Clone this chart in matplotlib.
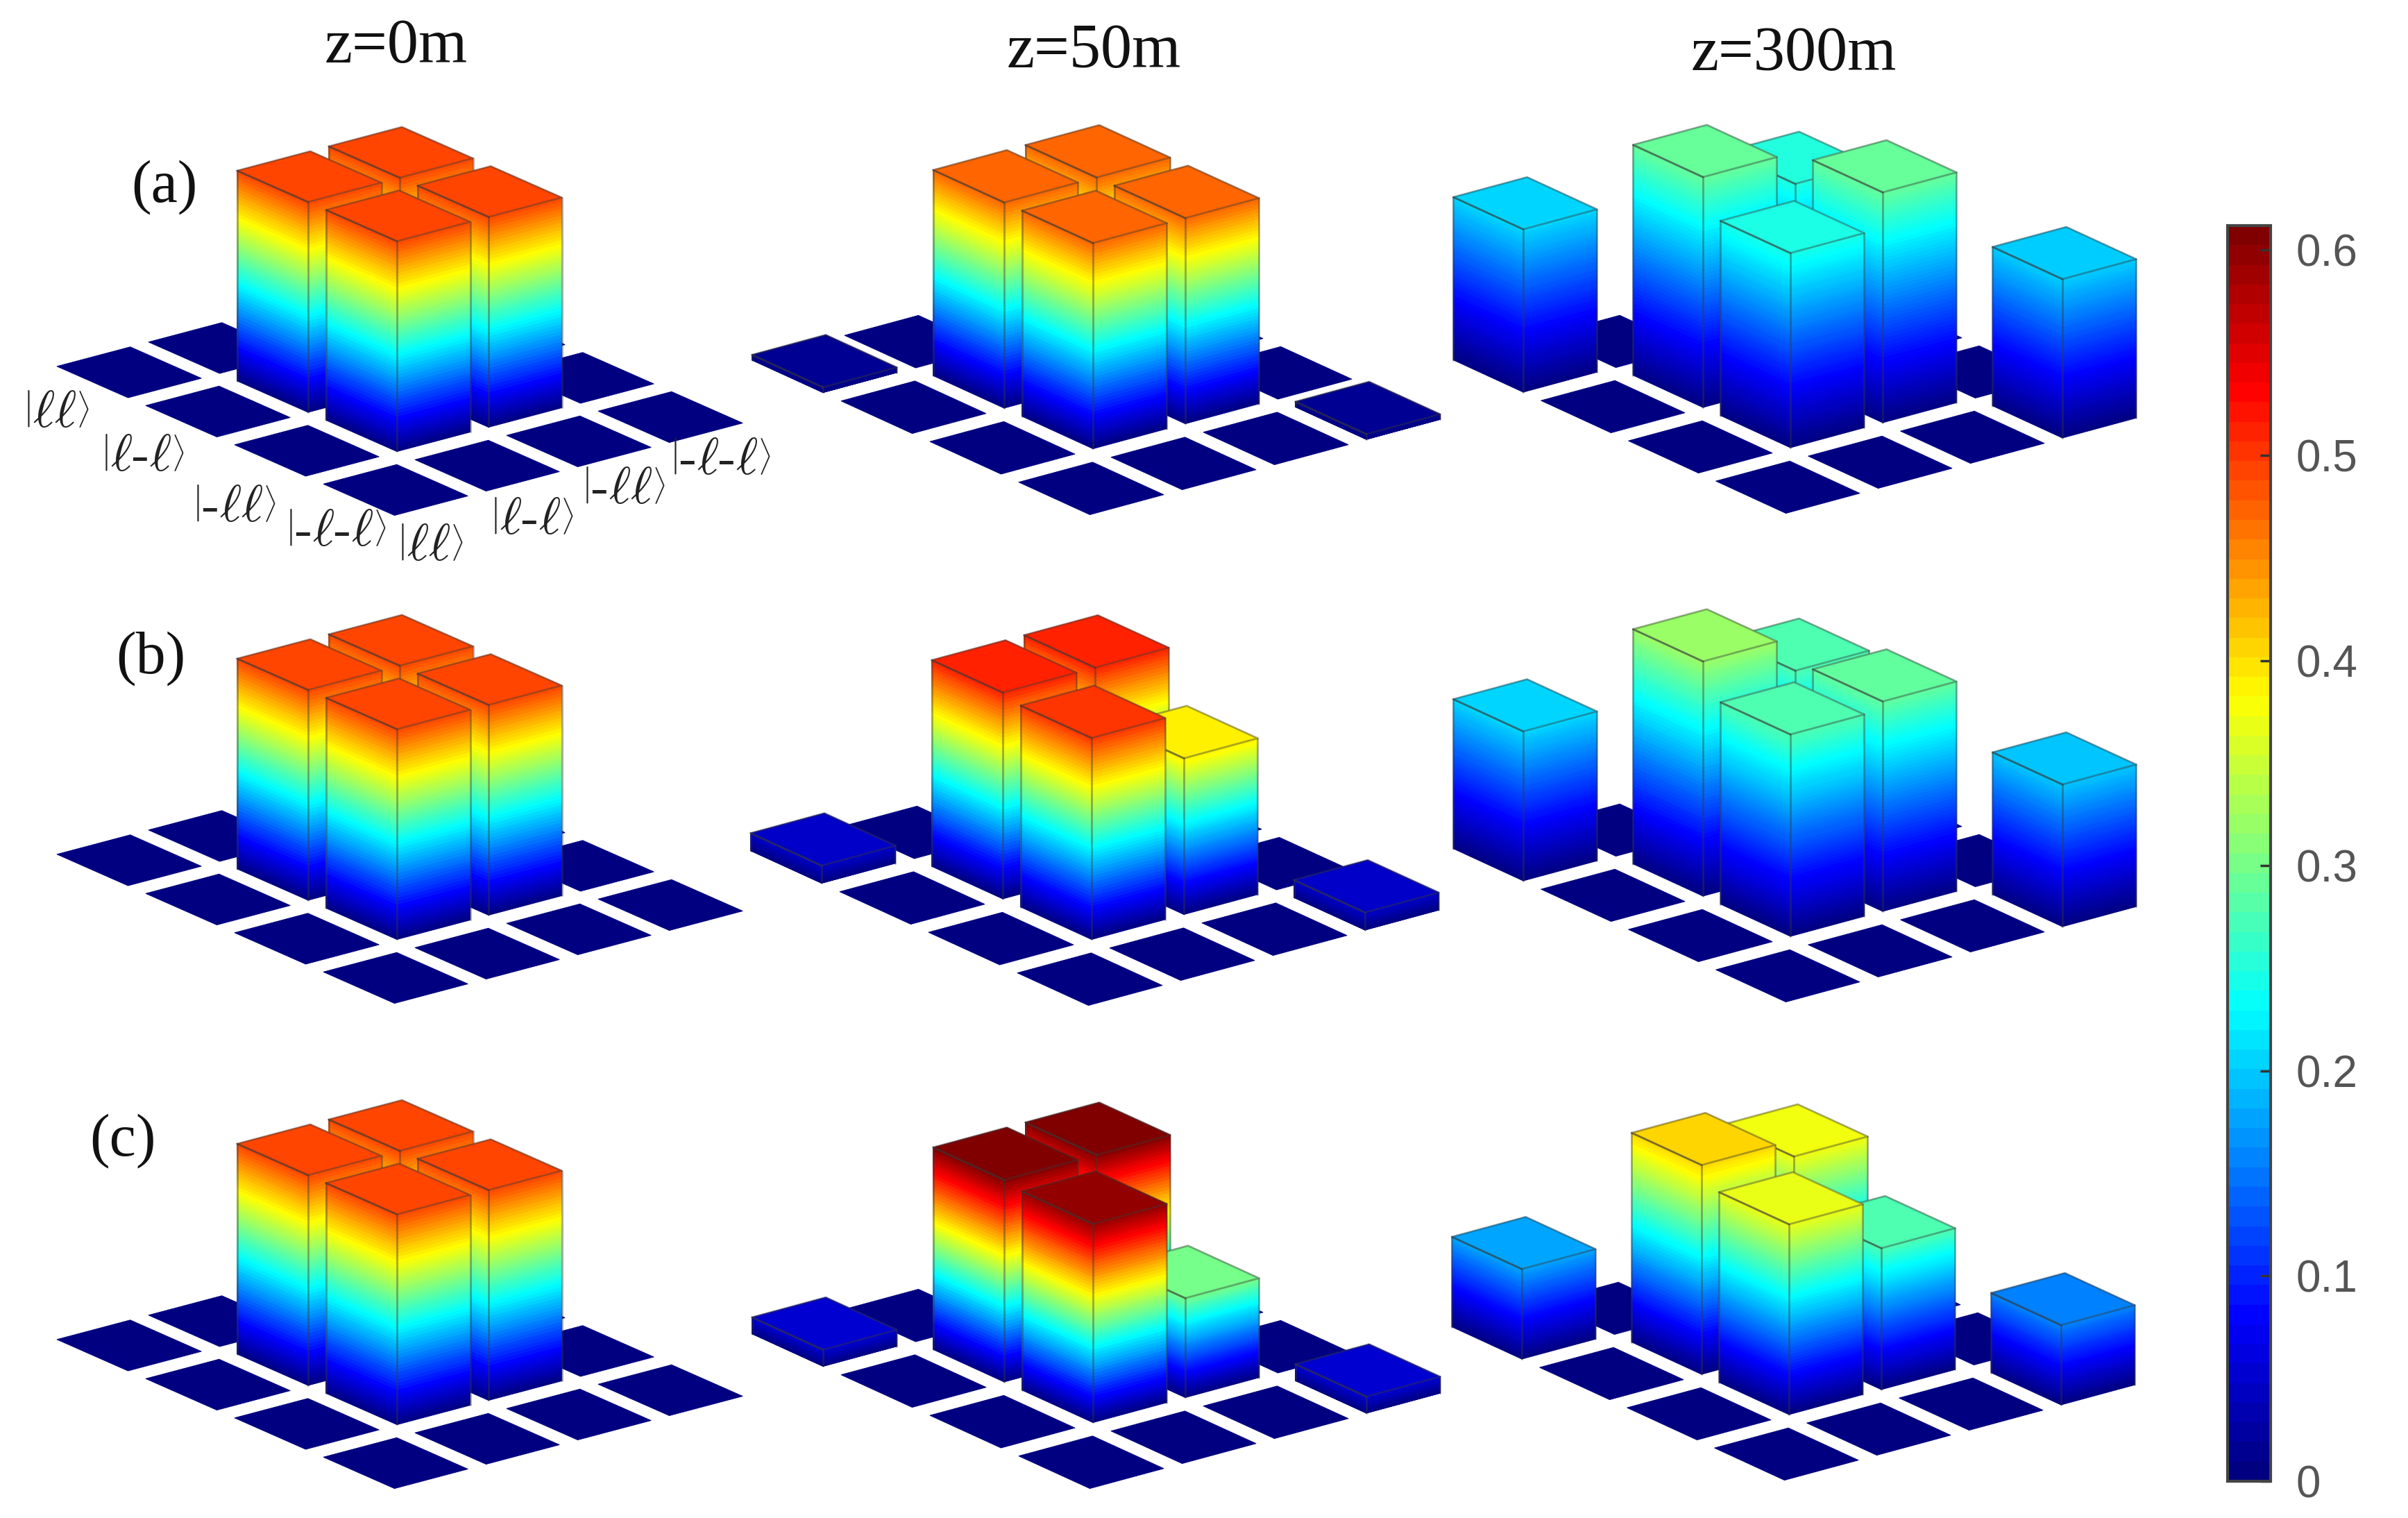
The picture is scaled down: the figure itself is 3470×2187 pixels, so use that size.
import numpy as np
import matplotlib
matplotlib.use("Agg")
import matplotlib.pyplot as plt
from matplotlib.cm import ScalarMappable
from matplotlib.colors import LinearSegmentedColormap, Normalize
from mpl_toolkits.mplot3d.art3d import Poly3DCollection

# ---- data: tall central bars and the two corner bars of each panel
# order of each list: front, right, left, back, left corner, right corner
a_0m   = [0.494, 0.494, 0.494, 0.494, 0.000, 0.000]
a_50m  = [0.474, 0.474, 0.474, 0.474, 0.012, 0.012]
a_300m = [0.245, 0.290, 0.290, 0.250, 0.205, 0.200]
b_0m   = [0.494, 0.494, 0.494, 0.494, 0.000, 0.000]
b_50m  = [0.503, 0.390, 0.515, 0.515, 0.044, 0.044]
b_300m = [0.277, 0.288, 0.322, 0.275, 0.205, 0.195]
c_0m   = [0.494, 0.494, 0.494, 0.494, 0.000, 0.000]
c_50m  = [0.600, 0.300, 0.610, 0.610, 0.050, 0.050]
c_300m = [0.370, 0.275, 0.407, 0.375, 0.175, 0.155]
panel_values = [a_0m, a_50m, a_300m, b_0m, b_50m, b_300m, c_0m, c_50m, c_300m]
panel_zmax = [0.685, 0.672, 0.367, 0.685, 0.728, 0.400, 0.685, 0.880, 0.567]

column_titles = ["z=0m", "z=50m", "z=300m"]
row_labels = ["(a)", "(b)", "(c)"]
basis_labels = [r"$\left|\ell\ell\right\rangle$",
                r"$\left|\ell\text{-}\ell\right\rangle$",
                r"$\left|\text{-}\ell\ell\right\rangle$",
                r"$\left|\text{-}\ell\text{-}\ell\right\rangle$"]
cbar_ticks = [0, 0.1, 0.2, 0.3, 0.4, 0.5, 0.6]
cbar_ticklabels = ["0", "0.1", "0.2", "0.3", "0.4", "0.5", "0.6"]
vmax = 0.612

# ---- layout (pixels)
W, H = 3470, 2187
plt.rcParams['mathtext.fontset'] = 'cm'
fig = plt.figure(figsize=(W / 100, H / 100), dpi=100, facecolor='white')

# screen steps for one cell along x and y, per column
STEP_X = [(132.0, 35.0), (133.0, 36.0), (133.0, 36.0)]
STEP_Y = [(-128.0, 56.5), (-128.0, 58.5), (-126.0, 58.0)]
AX_PX = 1300.0
S = AX_PX / 1.85
Z_PX = 420.0

anchors = [(568, 742), (1570, 741), (2573, 739),
           (568, 1445), (1568, 1448), (2573, 1443),
           (568, 2144), (1570, 2144), (2571, 2132)]

# the classic (MATLAB) jet ramps
jet_segments = {
    'red':   [(0, 0, 0), (0.375, 0, 0), (0.625, 1, 1), (0.875, 1, 1), (1, 0.5, 0.5)],
    'green': [(0, 0, 0), (0.125, 0, 0), (0.375, 1, 1), (0.625, 1, 1), (0.875, 0, 0), (1, 0, 0)],
    'blue':  [(0, 0.5, 0.5), (0.125, 1, 1), (0.375, 1, 1), (0.625, 0, 0), (1, 0, 0)],
}
jet = LinearSegmentedColormap('classic_jet', jet_segments, N=256)
jet64 = LinearSegmentedColormap('classic_jet64', jet_segments, N=64)
norm = Normalize(0, vmax)
HW = 0.4
EDGE = (0.22, 0.22, 0.22, 0.42)


def draw_bar(ax, i, j, v, order):
    x0, x1, y0, y1 = i - HW, i + HW, j - HW, j + HW
    polys, cols = [], []
    if v > 0:
        levels = np.linspace(0, v, 61)
        for z0, z1 in zip(levels[:-1], levels[1:]):
            c = jet(norm((z0 + z1) / 2))
            polys.append([(x0, y0, z0), (x1, y0, z0), (x1, y0, z1), (x0, y0, z1)])
            cols.append(c)
            polys.append([(x0, y0, z0), (x0, y1, z0), (x0, y1, z1), (x0, y0, z1)])
            cols.append(c)
    polys.append([(x0, y0, v), (x1, y0, v), (x1, y1, v), (x0, y1, v)])
    cols.append(jet(norm(v)))
    coll = Poly3DCollection(polys, facecolors=cols, edgecolors=cols, linewidths=0.7)
    coll.set_zorder(order)
    ax.add_collection3d(coll)
    if v > 0:
        kw = dict(color=EDGE, lw=2.0, zorder=order + 0.5, solid_capstyle='round')
        ax.plot([x0, x0], [y0, y0], [0, v], **kw)
        ax.plot([x1, x1], [y0, y0], [0, v], **kw)
        ax.plot([x0, x0], [y1, y1], [0, v], **kw)
        ax.plot([x0, x1, x1, x0, x0], [y0, y0, y1, y1, y0], [v] * 5, **kw)
        ax.plot([x0, x0], [y0, y1], [v, v], **kw)


for k, (vals, zmax, (fx, fy)) in enumerate(zip(panel_values, panel_zmax, anchors)):
    EX, EY = STEP_X[k % 3], STEP_Y[k % 3]
    t1 = EX[1] / EX[0]
    t2 = EY[1] / abs(EY[0])
    sin_el = np.sqrt(t1 * t2)
    elev = np.degrees(np.arcsin(sin_el))
    ang = np.arctan(np.sqrt(t2 / t1))       # |sin az| / |cos az|
    azim = -180.0 + np.degrees(ang)
    px_x = EX[0] / np.sin(ang)
    px_y = abs(EY[0]) / np.cos(ang)
    box = np.array([4 * px_x / S, 4 * px_y / S, Z_PX / np.cos(np.radians(elev)) / S])
    zoom = np.linalg.norm(box) / (1.8294640721620434 * 25 / 24)

    cx = fx + 1.9 * (EX[0] + EY[0])
    cy = (H - fy) + 1.9 * (EX[1] + EY[1]) + Z_PX / 2
    left = cx - 0.5135135 * AX_PX
    bottom = cy - 0.5135135 * AX_PX
    ax = fig.add_axes([left / W, bottom / H, AX_PX / W, AX_PX / H],
                      projection='3d', proj_type='ortho')
    ax.computed_zorder = False
    ax.view_init(elev=elev, azim=azim)
    ax.set_box_aspect(tuple(box), zoom=zoom)
    ax.set_axis_off()
    ax.patch.set_alpha(0)

    heights = np.zeros((4, 4))
    heights[1, 1], heights[2, 1], heights[1, 2], heights[2, 2] = vals[:4]
    heights[0, 3], heights[3, 0] = vals[4], vals[5]
    cells = sorted(((i, j) for i in range(4) for j in range(4)), key=lambda c: -(c[0] + c[1]))
    for order, (i, j) in enumerate(cells):
        draw_bar(ax, i, j, heights[i, j], order + 1)
    ax.set_xlim(-0.5, 3.5)
    ax.set_ylim(-0.5, 3.5)
    ax.set_zlim(0, zmax)


def ftext(px, py, s, **kw):
    fig.text(px / W, 1 - py / H, s, ha='center', va='center', **kw)


for s, (px, py) in zip(column_titles, [(571, 68), (1576, 75), (2585, 79)]):
    ftext(px, py, s, family='Liberation Serif', fontsize=65, color='#111111')
for s, (px, py) in zip(row_labels, [(237, 270), (217, 949), (177, 1644)]):
    ftext(px, py, s, family='Liberation Serif', fontsize=62, color='#111111')

tick_pos = [(81, 595), (205, 657), (337, 731), (484, 765),
            (620, 786), (766, 749), (898, 705), (1038, 662)]
seq_labels = basis_labels + basis_labels
for s, (px, py) in zip(seq_labels, tick_pos):
    ftext(px, py, s, fontsize=54, color='#222222')

# ---- colour bar
cax = fig.add_axes([3210 / W, 1 - 2134 / H, 62 / W, (2134 - 325) / H])
sm = ScalarMappable(norm=Normalize(0, vmax), cmap=jet64)
cb = fig.colorbar(sm, cax=cax, ticks=cbar_ticks)
cb.ax.set_yticklabels(cbar_ticklabels)
cb.ax.tick_params(direction='in', length=11, width=2.5, color='#333333', right=True,
                  labelsize=46, labelcolor='#555555', pad=26)
for lab in cb.ax.get_yticklabels():
    lab.set_family('Liberation Sans')
cb.outline.set_edgecolor('#444444')
cb.outline.set_linewidth(3)

fig.savefig('out.png', dpi=100, facecolor='white')
